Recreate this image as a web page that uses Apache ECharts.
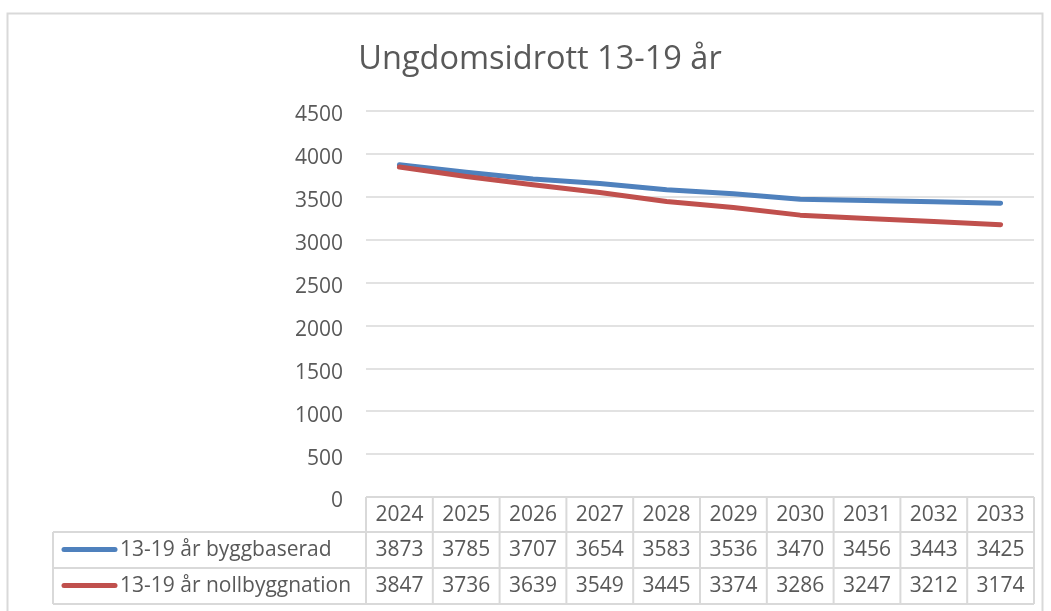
<!DOCTYPE html>
<html>
<head>
<meta charset="utf-8">
<script src="https://cdn.jsdelivr.net/npm/echarts@6/dist/echarts.min.js"></script>
<style>
  html, body { margin: 0; padding: 0; background: #fff; }
  #chart { width: 1051px; height: 611px; }
</style>
</head>
<body>
<div id="chart"></div>
<script>
const years = ['2024', '2025', '2026', '2027', '2028', '2029', '2030', '2031', '2032', '2033'];
const byggbaserad = [3873, 3785, 3707, 3654, 3583, 3536, 3470, 3456, 3443, 3425];
const nollbyggnation = [3847, 3736, 3639, 3549, 3445, 3374, 3286, 3247, 3212, 3174];
const seriesNames = ['13-19 år byggbaserad', '13-19 år nollbyggnation'];
const seriesColors = ['#4F81BD', '#C0504D'];

const font = '"Open Sans", sans-serif';
const textColor = '#595959';
const lineGray = '#D9D9D9';

// plot area edges (px)
const gLeft = 366, gRight = 1034, gTop = 111, gBottom = 497;
// data table rows
const rowTops = [497, 532, 568, 604];
const tableLeft = 53;

const chart = echarts.init(document.getElementById('chart'));

chart.setOption({
    animation: false,
    backgroundColor: '#fff',
    title: {
        text: 'Ungdomsidrott 13-19 år',
        left: 535,
        top: 38,
        textAlign: 'center',
        textStyle: {fontFamily: font, fontSize: 32.5, fontWeight: 'normal', color: textColor}
    },
    grid: {left: gLeft, right: 1051 - gRight, top: gTop, bottom: 611 - gBottom},
    xAxis: {
        type: 'category',
        data: years,
        boundaryGap: true,
        axisLine: {show: false},
        axisTick: {show: false},
        axisLabel: {show: false}
    },
    yAxis: {
        type: 'value',
        min: 0,
        max: 4500,
        interval: 500,
        axisLine: {show: false},
        axisTick: {show: false},
        axisLabel: {
            margin: 23, color: textColor,
            formatter: v => '{a|' + v + '}',
            rich: {a: {fontFamily: font, fontSize: 21, color: textColor, padding: [9, 0, 0, 0]}}
        },
        splitLine: {lineStyle: {color: lineGray, width: 1.5}}
    },
    series: [
        {
            name: seriesNames[0],
            type: 'line',
            data: byggbaserad,
            symbol: 'none',
            lineStyle: {color: seriesColors[0], width: 5, cap: 'round', join: 'round'}
        },
        {
            name: seriesNames[1],
            type: 'line',
            data: nollbyggnation,
            symbol: 'none',
            lineStyle: {color: seriesColors[1], width: 5, cap: 'round', join: 'round'}
        }
    ]
});

// data table under the plot
const colW = (gRight - gLeft) / years.length;
const g = [];
const line = (x1, y1, x2, y2) => g.push({
    type: 'line', silent: true,
    shape: {x1, y1, x2, y2},
    style: {stroke: lineGray, lineWidth: 2}
});
const cell = (text, x, y, align) => g.push({
    type: 'text', silent: true, x, y,
    style: {text, fontFamily: font, fontSize: 21, fill: textColor, align: align || 'center', verticalAlign: 'middle'}
});

// chart border
g.push({
    type: 'rect', silent: true,
    shape: {x: 7.5, y: 13.5, width: 1035, height: 640},
    style: {fill: null, stroke: lineGray, lineWidth: 2}
});

line(gLeft, rowTops[0], gRight, rowTops[0]);
for (let r = 1; r < rowTops.length; r++) line(tableLeft, rowTops[r], gRight, rowTops[r]);
line(tableLeft, rowTops[1], tableLeft, rowTops[3]);
for (let i = 0; i <= years.length; i++) {
    const x = gLeft + i * colW;
    line(x, rowTops[0], x, rowTops[3]);
}

const rows = [years, byggbaserad, nollbyggnation];
rows.forEach((vals, r) => {
    const yc = (rowTops[r] + rowTops[r + 1]) / 2 + 0.5;
    vals.forEach((v, i) => {
        const xc = chart.convertToPixel({xAxisIndex: 0}, i);
        cell(String(v), xc, yc);
    });
});

// legend keys inside the table
seriesNames.forEach((name, k) => {
    const yc = (rowTops[k + 1] + rowTops[k + 2]) / 2 - 0.5;
    g.push({
        type: 'line', silent: true,
        shape: {x1: 64, y1: yc, x2: 115, y2: yc},
        style: {stroke: seriesColors[k], lineWidth: 5, lineCap: 'round'}
    });
    cell(name, 120, yc + 1, 'left');
});

chart.setOption({graphic: g});
</script>
</body>
</html>
